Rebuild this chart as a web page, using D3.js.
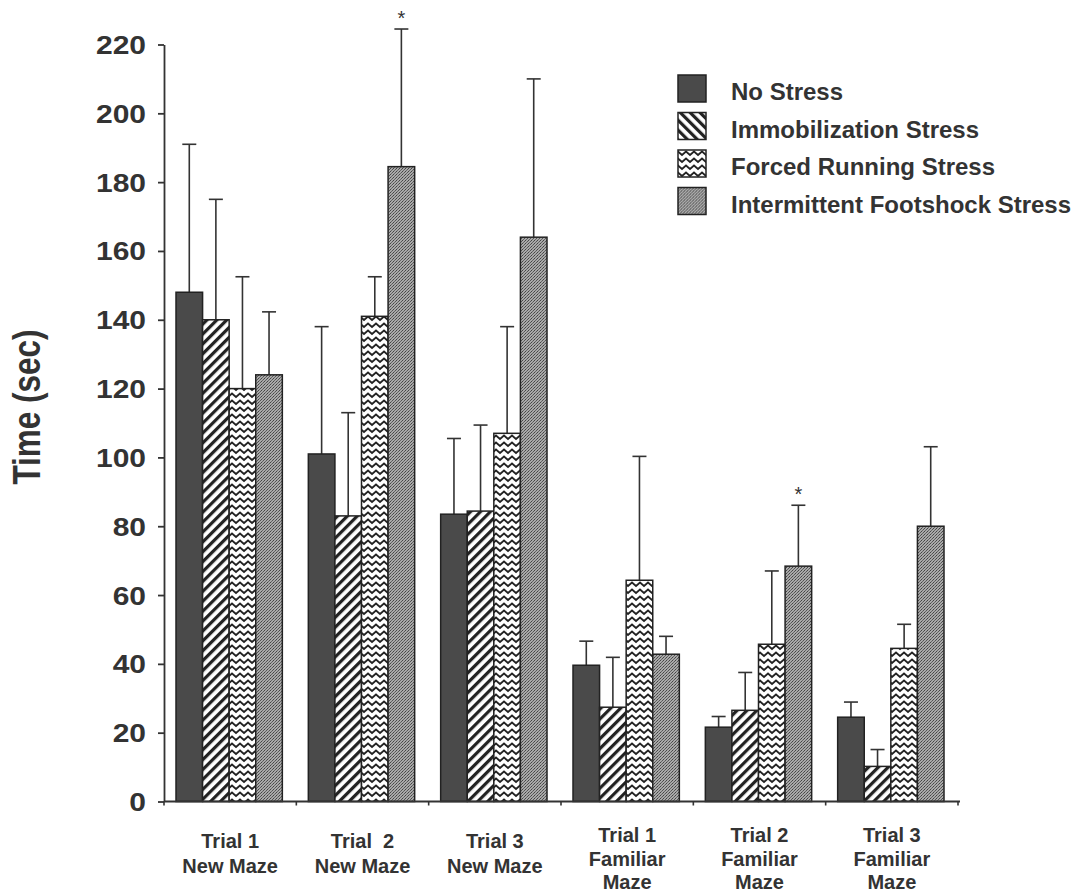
<!DOCTYPE html>
<html>
<head>
<meta charset="utf-8">
<script src="https://cdn.jsdelivr.net/npm/d3@7"></script>
<style>
  body { margin: 0; background: #fff; }
  svg text { font-family: "Liberation Sans", Arial, Helvetica, sans-serif; fill: #333; }
</style>
</head>
<body>
<svg id="chart" width="1076" height="893"></svg>
<script>
// Time spent in the maze (sec), mean with upward SEM bar, per stress condition
const categories = [
  ["Trial 1", "New Maze"],
  ["Trial  2", "New Maze"],
  ["Trial 3", "New Maze"],
  ["Trial 1", "Familiar", "Maze"],
  ["Trial 2", "Familiar", "Maze"],
  ["Trial 3", "Familiar", "Maze"]
];
const seriesNames = ["No Stress", "Immobilization Stress", "Forced Running Stress", "Intermittent Footshock Stress"];

const noStress        = [148, 101, 83.5, 39.6, 21.6, 24.5];
const noStressErr     = [43, 37, 22, 7, 3.1, 4.4];
const immobilization  = [140, 83, 84.4, 27.4, 26.5, 10.2];
const immobilizationErr = [35, 30, 25, 14.5, 11, 4.9];
const forcedRunning   = [120, 141, 107, 64.3, 45.7, 44.5];
const forcedRunningErr = [32.5, 11.5, 31, 36, 21.3, 7];
const footshock       = [124, 184.5, 164, 42.8, 68.4, 80];
const footshockErr    = [18.3, 40, 46, 5.2, 17.7, 23.1];

const yTicks = [0, 20, 40, 60, 80, 100, 120, 140, 160, 180, 200, 220];
// [category index, series index] of bars marked as significant
const significant = [[1, 3], [4, 3]];

const means = [noStress, immobilization, forcedRunning, footshock];
const errs = [noStressErr, immobilizationErr, forcedRunningErr, footshockErr];

const svg = d3.select("#chart");
const ink = "#222";

// ---- fill patterns ----
const defs = svg.append("defs");

function hatch(id, angle) {
  const p = defs.append("pattern").attr("id", id)
    .attr("patternUnits", "userSpaceOnUse").attr("width", 7).attr("height", 7)
    .attr("patternTransform", `rotate(${angle})`);
  p.append("rect").attr("width", 7).attr("height", 7).attr("fill", "#fff");
  p.append("rect").attr("width", 3.2).attr("height", 7).attr("fill", ink);
}
hatch("hatchBar", 45);
hatch("hatchKey", -45);

const zig = defs.append("pattern").attr("id", "zigzag")
  .attr("patternUnits", "userSpaceOnUse").attr("width", 8).attr("height", 7);
zig.append("rect").attr("width", 8).attr("height", 7).attr("fill", "#fff");
zig.append("path").attr("d", "M-4,5 L0,1.5 L4,5 L8,1.5 L12,5")
  .attr("fill", "none").attr("stroke", ink).attr("stroke-width", 1.7);

// fine stipple for the footshock bars
const dots = defs.append("pattern").attr("id", "stipple")
  .attr("patternUnits", "userSpaceOnUse").attr("width", 3).attr("height", 3);
dots.append("rect").attr("width", 3).attr("height", 3).attr("fill", "#a9a9a9");
[[0, 0, "#444"], [2, 1, "#555"], [1, 2, "#666"]].forEach(([px, py, c]) => {
  dots.append("rect").attr("x", px).attr("y", py).attr("width", 1).attr("height", 1).attr("fill", c);
});

const barFills = ["#4a4a4a", "url(#hatchBar)", "url(#zigzag)", "url(#stipple)"];
const keyFills = ["#4a4a4a", "url(#hatchKey)", "url(#zigzag)", "url(#stipple)"];

// ---- scales ----
const x0 = d3.scaleBand().domain(d3.range(categories.length)).range([164, 958]).padding(0);
const x1 = d3.scaleBand().domain(d3.range(seriesNames.length)).range([12, x0.bandwidth() - 14]).padding(0);
const y = d3.scaleLinear().domain([0, 220]).range([801.5, 44.5]);

// ---- bars ----
const rows = [];
categories.forEach((c, ci) => {
  seriesNames.forEach((s, si) => {
    rows.push({ ci, si, v: means[si][ci], e: errs[si][ci] });
  });
});

const g = svg.append("g");

// error bars (upward only), drawn first so bar tops cover the stem base
const cap = 14;
const eb = g.selectAll(".err").data(rows).join("g").attr("class", "err")
  .attr("stroke", "#333").attr("stroke-width", 1.6);
eb.append("line")
  .attr("x1", d => x0(d.ci) + x1(d.si) + x1.bandwidth() / 2)
  .attr("x2", d => x0(d.ci) + x1(d.si) + x1.bandwidth() / 2)
  .attr("y1", d => y(d.v)).attr("y2", d => y(d.v + d.e));
eb.append("line")
  .attr("x1", d => x0(d.ci) + x1(d.si) + x1.bandwidth() / 2 - cap / 2)
  .attr("x2", d => x0(d.ci) + x1(d.si) + x1.bandwidth() / 2 + cap / 2)
  .attr("y1", d => y(d.v + d.e)).attr("y2", d => y(d.v + d.e));

g.selectAll(".bar").data(rows).join("rect").attr("class", "bar")
  .attr("x", d => x0(d.ci) + x1(d.si))
  .attr("width", x1.bandwidth())
  .attr("y", d => y(d.v))
  .attr("height", d => y(0) - y(d.v))
  .attr("fill", d => barFills[d.si])
  .attr("stroke", ink).attr("stroke-width", 1.5);

// significance stars
g.selectAll(".star").data(significant).join("text").attr("class", "star")
  .attr("x", d => x0(d[0]) + x1(d[1]) + x1.bandwidth() / 2)
  .attr("y", d => y(means[d[1]][d[0]] + errs[d[1]][d[0]]) - 4)
  .attr("text-anchor", "middle").attr("font-size", 20)
  .text("*");

// ---- y axis ----
const yAxis = svg.append("g").attr("transform", "translate(164,0)")
  .call(d3.axisLeft(y).tickValues(yTicks).tickSize(6).tickSizeOuter(0).tickFormat(d3.format("d")));
yAxis.select(".domain").attr("stroke", "#333").attr("stroke-width", 1.8);
yAxis.selectAll(".tick line").attr("stroke", "#333").attr("stroke-width", 1.8);
yAxis.selectAll(".tick text")
  .attr("font-size", 25).attr("font-weight", "bold").attr("fill", "#333")
  .attr("x", -15).attr("dy", "0.36em")
  .attr("transform", "scale(1.2,1)")
  .style("font-family", "'Liberation Sans', Arial, sans-serif");

// ---- x axis ----
const xAxisG = svg.append("g");
xAxisG.append("line").attr("x1", 164).attr("x2", 960).attr("y1", y(0)).attr("y2", y(0))
  .attr("stroke", "#333").attr("stroke-width", 1.8);
xAxisG.selectAll(".xt").data(d3.range(categories.length + 1)).join("line").attr("class", "xt")
  .attr("x1", d => 164 + d * x0.step()).attr("x2", d => 164 + d * x0.step())
  .attr("y1", y(0)).attr("y2", y(0) + 4)
  .attr("stroke", "#333").attr("stroke-width", 1.6);

const labels = xAxisG.selectAll(".xl").data(categories).join("text").attr("class", "xl")
  .attr("text-anchor", "middle").attr("font-size", 20).attr("font-weight", "bold")
  .attr("xml:space", "preserve").style("white-space", "pre");
labels.each(function (lines, i) {
  const cx = x0(i) + x0.bandwidth() / 2;
  const top = lines.length === 2 ? 848 : 842;
  const step = lines.length === 2 ? 25 : 23.5;
  d3.select(this).selectAll("tspan").data(lines).join("tspan")
    .attr("x", cx).attr("y", (d, k) => top + k * step).text(d => d);
});

// ---- y title ----
svg.append("text")
  .attr("transform", "translate(40,407) rotate(-90) scale(1,1.24)")
  .attr("text-anchor", "middle").attr("font-size", 31.5).attr("font-weight", "bold")
  .text("Time (sec)");

// ---- legend ----
const legend = svg.append("g").attr("transform", "translate(678,75)");
const item = legend.selectAll(".key").data(seriesNames).join("g").attr("class", "key")
  .attr("transform", (d, i) => `translate(0,${i * 37.5})`);
item.append("rect").attr("width", 28).attr("height", 27)
  .attr("fill", (d, i) => keyFills[i]).attr("stroke", ink).attr("stroke-width", 1.5);
item.append("text").attr("x", 53).attr("y", 25)
  .attr("font-size", 24).attr("font-weight", "bold").text(d => d);
</script>
</body>
</html>
